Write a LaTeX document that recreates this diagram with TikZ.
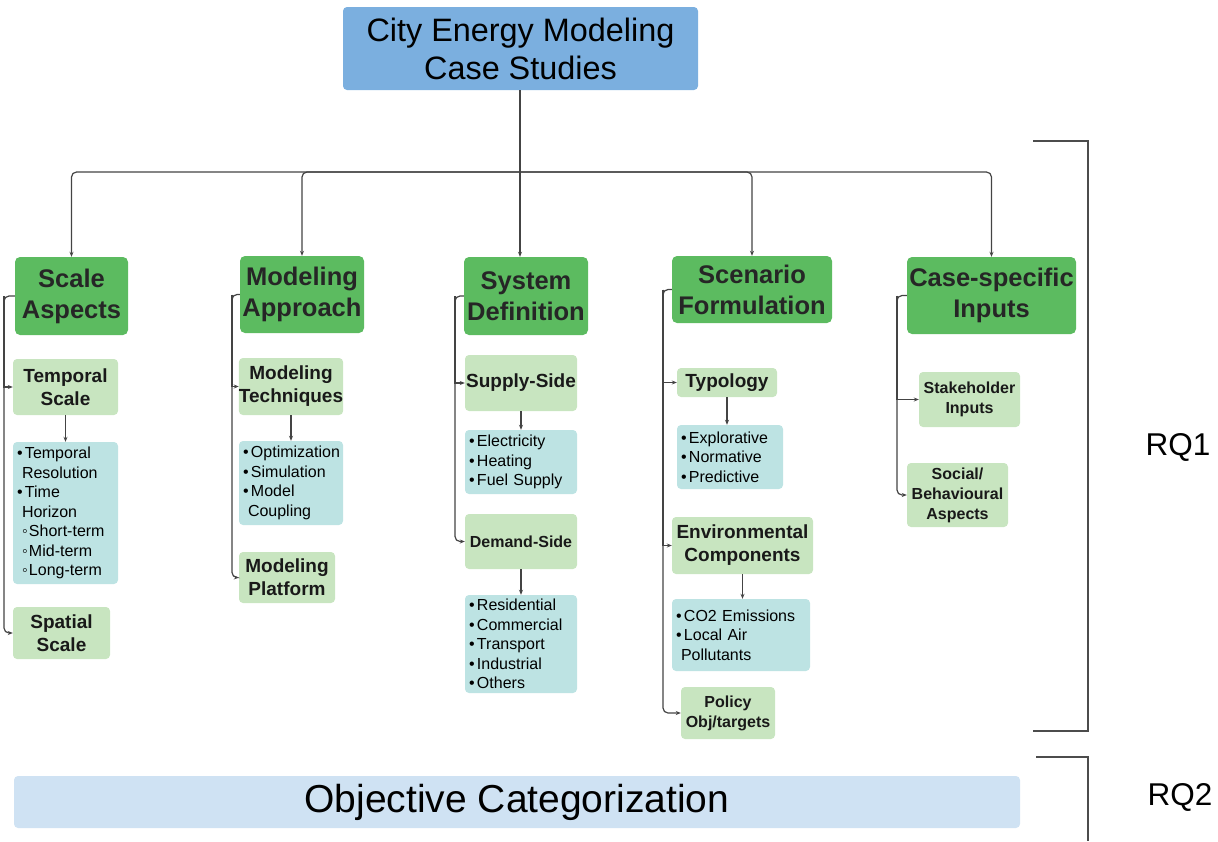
\documentclass[tikz,border=0pt]{standalone}
\usepackage{fontspec}
\setmainfont{Liberation Sans}
\usetikzlibrary{arrows.meta}

\definecolor{titleblue}{HTML}{7BAFDF}
\definecolor{headgreen}{HTML}{5CBB60}
\definecolor{subgreen}{HTML}{C8E5C0}
\definecolor{listteal}{HTML}{BDE3E3}
\definecolor{objblue}{HTML}{CFE2F3}
\definecolor{linkgray}{HTML}{444444}

% bullets for the item boxes
\newcommand{\itm}{\makebox[8pt][l]{•}}
\newcommand{\sitm}{\hspace*{5pt}\makebox[7pt][l]{◦}}
\newcommand{\cnt}{\hspace*{5pt}}

\tikzset{
  topbox/.style={fill=titleblue, rounded corners=4pt, align=center, inner sep=0pt,
    font=\fontsize{32.4}{38}\selectfont},
  headbox/.style={fill=headgreen, rounded corners=5pt, align=center, inner sep=0pt,
    text=black!85, font=\bfseries\fontsize{25.5}{31}\selectfont},
  subbox/.style={fill=subgreen, rounded corners=4pt, align=center, inner sep=0pt,
    text=black!90, font=\bfseries\fontsize{19}{23}\selectfont},
  smallsub/.style={subbox, font=\bfseries\fontsize{16}{20}\selectfont},
  listbox/.style={fill=listteal, rounded corners=4pt, align=left, inner sep=4pt,
    font=\fontsize{16}{19.5}\selectfont},
  link/.style={draw=linkgray, line width=1.2pt},
  arr/.style={link, -{Stealth[length=5pt,width=4pt]}},
  brace/.style={draw=black!70, line width=1.3pt},
  rq/.style={font=\fontsize{31.5}{36}\selectfont}
}

\begin{document}
\begin{tikzpicture}[x=1pt, y=-1pt]
  \useasboundingbox (0,0) rectangle (1218,841);

  % top and bottom boxes
  \node[topbox, minimum width=355pt, minimum height=83pt] (title) at (520.5,48.5)
    {City Energy Modeling\\Case Studies};
  \node[fill=objblue, rounded corners=4pt, minimum width=1006pt, minimum height=52pt,
    font=\fontsize{39}{44}\selectfont] (obj) at (517,802) {Objective Categorization};

  % main categories
  \node[headbox, minimum width=113pt, minimum height=78pt] (scale) at (71.5,296) {Scale\\Aspects};
  \node[headbox, minimum width=124pt, minimum height=77pt] (appr) at (302,294.5) {Modeling\\Approach};
  \node[headbox, minimum width=124pt, minimum height=78pt] (sys) at (526,296) {System\\Definition};
  \node[headbox, minimum width=160pt, minimum height=67pt] (scen) at (752,289.5) {Scenario\\Formulation};
  \node[headbox, minimum width=169pt, minimum height=77pt] (case) at (991.5,295.5) {Case-specific\\Inputs};

  % bus from the title down to the categories
  \coordinate (bus) at (520,172);
  \draw[link] (bus |- title.south) -- (bus);
  \foreach \n in {scale, appr, scen, case}
    \draw[arr, rounded corners=5pt] (bus) -| (\n.north);
  \draw[arr] (bus) -- (bus |- sys.north);

  % scale aspects
  \node[subbox, minimum width=105pt, minimum height=56pt] (temp) at (65.5,387) {Temporal\\Scale};
  \node[listbox, minimum width=105pt, minimum height=142pt, text width=97pt] (templist) at (65.5,513)
    {\itm Temporal\\\cnt Resolution\\\itm Time\\\cnt Horizon\\\sitm Short-term\\\sitm Mid-term\\\sitm Long-term};
  \node[subbox, minimum width=97pt, minimum height=52pt] (spat) at (61.5,633) {Spatial\\Scale};
  \coordinate (sp1) at (4,296);
  \draw[arr, rounded corners=5pt] (scale.west) -- (sp1) |- (spat.west);
  \draw[arr] (sp1) |- (temp.west);
  \draw[arr] (temp.south) -- (templist.north);

  % modeling approach
  \node[subbox, minimum width=104pt, minimum height=57pt] (tech) at (291,386.5) {Modeling\\Techniques};
  \node[listbox, minimum width=104pt, minimum height=84pt, text width=96pt] (techlist) at (291,483)
    {\itm Optimization\\\itm Simulation\\\itm Model\\\cnt Coupling};
  \node[subbox, minimum width=96pt, minimum height=51pt] (plat) at (287,577.5) {Modeling\\Platform};
  \coordinate (sp2) at (232,294.5);
  \draw[arr, rounded corners=5pt] (appr.west) -- (sp2) |- (plat.west);
  \draw[arr] (sp2) |- (tech.west);
  \draw[arr] (tech.south) -- (techlist.north);

  % system definition
  \node[subbox, minimum width=112pt, minimum height=56pt] (supp) at (521,383) {Supply-Side};
  \node[listbox, minimum width=112pt, minimum height=64pt, text width=104pt] (supplist) at (521,462)
    {\itm Electricity\\\itm Heating\\\itm Fuel Supply};
  \node[smallsub, minimum width=112pt, minimum height=55pt] (dem) at (521,541.5) {Demand-Side};
  \node[listbox, minimum width=112pt, minimum height=98pt, text width=104pt] (demlist) at (521,644)
    {\itm Residential\\\itm Commercial\\\itm Transport\\\itm Industrial\\\itm Others};
  \coordinate (sp3) at (455,296);
  \draw[arr, rounded corners=5pt] (sys.west) -- (sp3) |- (dem.west);
  \draw[arr] (sp3) |- (supp.west);
  \draw[arr] (supp.south) -- (supplist.north);
  \draw[arr] (dem.south) -- (demlist.north);

  % scenario formulation
  \node[subbox, minimum width=100pt, minimum height=29pt] (typo) at (727,382.5) {Typology};
  \node[listbox, minimum width=106pt, minimum height=64pt, text width=98pt] (typolist) at (730,457)
    {\itm Explorative\\\itm Normative\\\itm Predictive};
  \node[subbox, minimum width=141pt, minimum height=57pt] (env) at (742.5,545.5) {Environmental\\Components};
  \node[listbox, minimum width=138pt, minimum height=72pt, text width=130pt] (envlist) at (741,635)
    {\itm CO2 Emissions\\\itm Local Air\\\cnt Pollutants};
  \node[smallsub, minimum width=94pt, minimum height=52pt] (pol) at (728,713) {Policy\\Obj/targets};
  \coordinate (sp4) at (663,289.5);
  \draw[arr, rounded corners=5pt] (scen.west) -- (sp4) |- (pol.west);
  \draw[arr] (sp4) |- (typo.west);
  \draw[arr] (sp4) |- (env.west);
  \draw[arr] (typo.south) -- (typo.south |- typolist.north);
  \draw[arr] (env.south) -- (env.south |- envlist.north);

  % case-specific inputs
  \node[smallsub, minimum width=101pt, minimum height=55pt] (stake) at (969.5,399.5) {Stakeholder\\Inputs};
  \node[smallsub, minimum width=101pt, minimum height=64pt] (soc) at (957.5,495) {Social/\\Behavioural\\Aspects};
  \coordinate (sp5) at (897,295.5);
  \draw[arr, rounded corners=5pt] (case.west) -- (sp5) |- (soc.west);
  \draw[arr] (sp5) |- (stake.west);

  % research question brackets
  \draw[brace] (1033,141) -- (1088,141) -- (1088,731) -- (1033,731);
  \draw[brace] (1036,757) -- (1088,757) -- (1088,841);
  \node[rq] (rq1) at (1178,447) {RQ1};
  \node[rq] (rq2) at (1180,797) {RQ2};
\end{tikzpicture}
\end{document}
